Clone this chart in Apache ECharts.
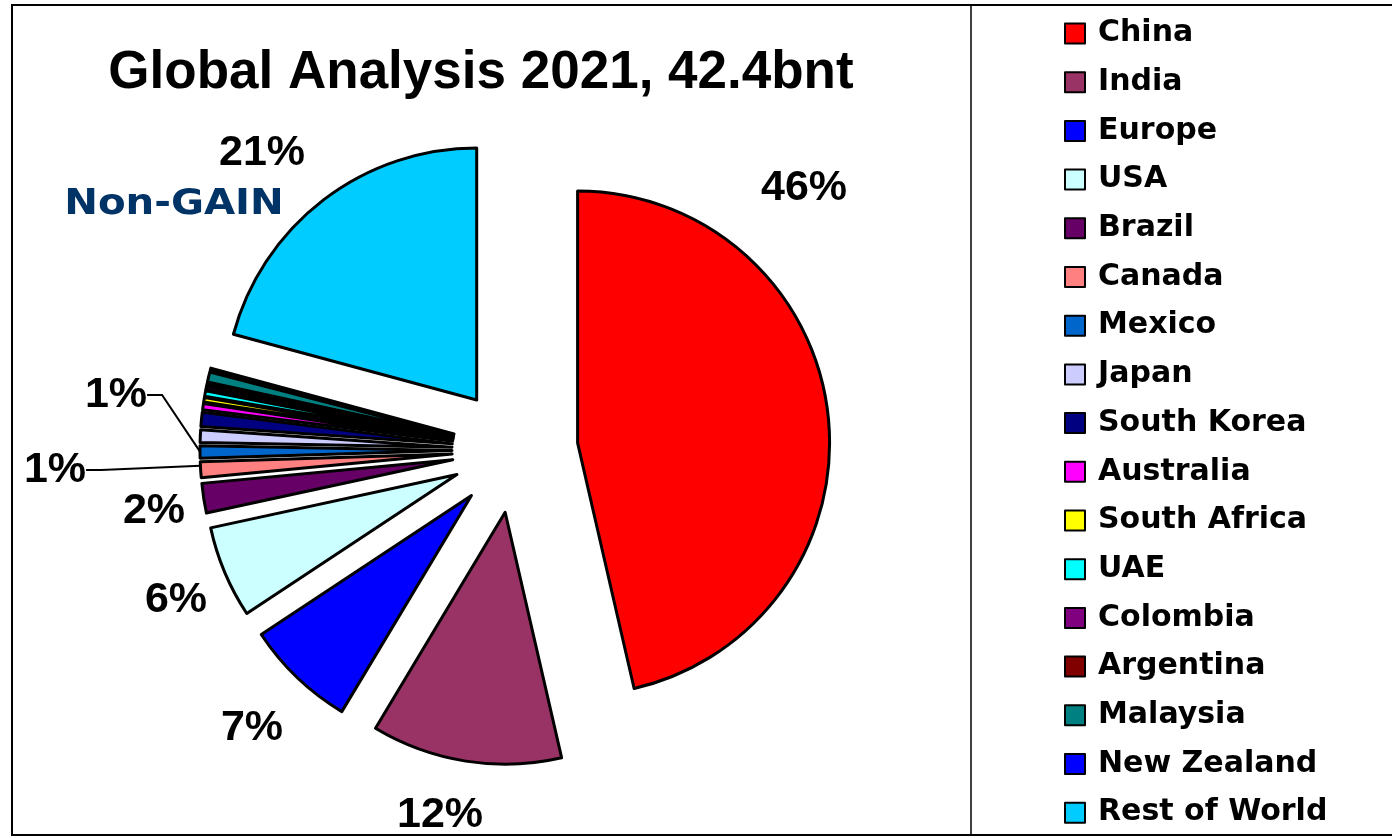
<!DOCTYPE html>
<html><head><meta charset="utf-8">
<script src="https://cdn.jsdelivr.net/npm/echarts@6/dist/echarts.min.js"></script>
<style>html,body{margin:0;padding:0;background:#fff;} #c{width:1392px;height:838px;}</style>
</head><body><div id="c"></div>
<script>
// ---- data ----
const titleText = 'Global Analysis 2021, 42.4bnt';
const categories = ['China','India','Europe','USA','Brazil','Canada','Mexico','Japan','South Korea','Australia','South Africa','UAE','Colombia','Argentina','Malaysia','New Zealand','Rest of World'];
const shares = [46.4, 12.2, 7.1, 5.9, 1.9, 1.0, 0.8, 0.8, 0.9, 0.4, 0.3, 0.35, 0.2, 0.15, 0.65, 0.15, 20.8];
const colors = ['#FF0000','#993366','#0000FF','#CCFFFF','#660066','#FF8080','#0066CC','#CCCCFF','#000080','#FF00FF','#FFFF00','#00FFFF','#800080','#800000','#008080','#0000FF','#00CCFF'];
const labeled = ['China','India','Europe','USA','Brazil','Canada','Mexico','Rest of World'];
const withLeader = ['Canada','Mexico'];
const annotation = 'Non-GAIN';

// ---- label placement (layout, not data) ----
const labelPos = {
  'China': [804, 188], 'India': [440, 815], 'Europe': [252, 728], 'USA': [176, 600],
  'Brazil': [154, 511], 'Canada': [55, 470], 'Mexico': [116, 395], 'Rest of World': [262, 153]
};

const chart = echarts.init(document.getElementById('c'));

// visible, exploded slices
const sliceData = categories.map((n, i) => ({
  name: n, value: shares[i], selected: true,
  itemStyle: { color: colors[i] }
}));
// label carrier (same values, no fill)
const labelData = categories.map((n, i) => ({
  name: n, value: shares[i],
  itemStyle: { color: 'rgba(0,0,0,0)', borderWidth: 0 },
  label: { show: labeled.includes(n), padding: withLeader.includes(n) ? [0, 12, 0, 12] : 0 },
  labelLine: { show: withLeader.includes(n) }
}));

chart.setOption({
  animation: false,
  backgroundColor: '#fff',
  legend: {
    orient: 'vertical', left: 1064, top: 18.5, padding: 0,
    itemWidth: 20, itemHeight: 20, itemGap: 18.7, icon: 'rect',
    selectedMode: false,
    itemStyle: { borderColor: '#000', borderWidth: 2 },
    textStyle: { fontFamily: 'DejaVu Sans', fontWeight: 'bold', fontSize: 30, color: '#000', lineHeight: 30, padding: [0, 0, 0, 8] },
    data: categories
  },
  graphic: [
    { type: 'rect', shape: { x: 12, y: 5, width: 1400, height: 830 }, style: { fill: 'none', stroke: '#000', lineWidth: 2 }, silent: true },
    { type: 'line', shape: { x1: 971, y1: 5, x2: 971, y2: 835 }, style: { stroke: '#000', lineWidth: 1.5 }, silent: true },
    { type: 'text', x: 481, y: 73, style: { text: titleText, align: 'center', verticalAlign: 'middle', font: 'bold 53px "Liberation Sans"', fill: '#000' } },
    { type: 'text', x: 174, y: 205, scaleX: 1.15, style: { text: annotation, align: 'center', verticalAlign: 'middle', font: 'bold 35px "DejaVu Sans"', fill: '#003366' } }
  ],
  series: [{
    type: 'pie',
    center: [515, 450],
    radius: 252,
    startAngle: 90,
    clockwise: true,
    selectedMode: 'multiple',
    selectedOffset: 63,
    itemStyle: { borderColor: '#000', borderWidth: 3 },
    select: { itemStyle: { borderColor: '#000', borderWidth: 3 } },
    emphasis: { disabled: true },
    label: { show: false },
    labelLine: { show: false },
    data: sliceData
  }, {
    type: 'pie',
    silent: true,
    center: [452, 450],
    radius: 252,
    startAngle: 90,
    clockwise: true,
    avoidLabelOverlap: false,
    emphasis: { disabled: true },
    label: {
      show: true, position: 'outside',
      formatter: p => Math.round(p.percent) + '%',
      fontFamily: 'Liberation Sans', fontWeight: 'bold', fontSize: 43, color: '#000'
    },
    labelLine: { length: 10, length2: 15, lineStyle: { color: '#000', width: 2 } },
    labelLayout: function (p) {
      const pos = labelPos[categories[p.dataIndex]];
      if (!pos) return {};
      return { x: pos[0], y: pos[1], align: 'center', verticalAlign: 'middle' };
    },
    data: labelData
  }]
});
</script></body></html>
